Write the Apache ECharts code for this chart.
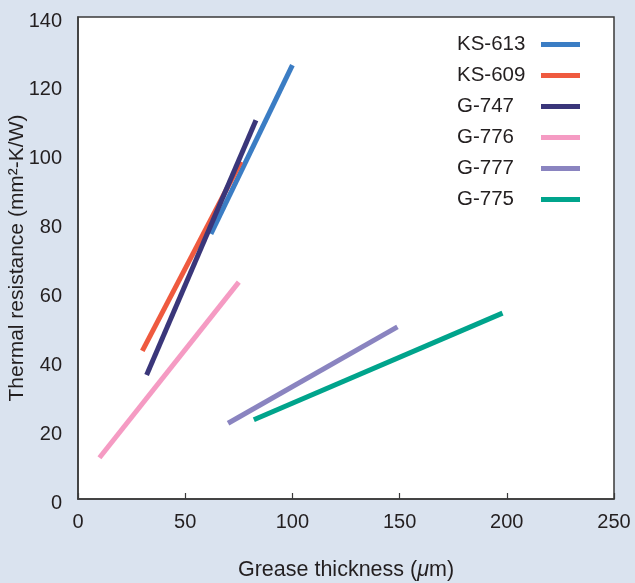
<!DOCTYPE html>
<html><head><meta charset="utf-8">
<script src="https://cdn.jsdelivr.net/npm/echarts@6/dist/echarts.min.js"></script>
<style>html,body{margin:0;padding:0;background:#dae3ef;}#c{width:635px;height:583px;}</style>
</head><body><div id="c"></div>
<script>
const seriesNames = ['KS-613','KS-609','G-747','G-776','G-777','G-775'];
const ks613 = [[62,77],[100,126]];
const ks609 = [[30,43],[76,98]];
const g747 = [[32,36],[83,110]];
const g776 = [[10,12],[75,63]];
const g777 = [[70,22],[149,50]];
const g775 = [[82,23],[198,54]];
const seriesData = [ks613, ks609, g747, g776, g777, g775];
const colors = ['#3b7dc4','#ef5a3f','#3a367a','#f59bc3','#8a84c0','#00a48c'];
const xName = 'Grease thickness ({i|μ}m)';
const yName = 'Thermal resistance (mm²-K/W)';

const font = '"Liberation Sans", Arial, Helvetica, sans-serif';
const txt = '#231f20';
const chart = echarts.init(document.getElementById('c'), null, {renderer:'canvas'});
chart.setOption({
  backgroundColor: '#dae3ef',
  animation: false,
  textStyle: {fontFamily: font, color: txt},
  grid: {left: 78, right: 21, top: 17, bottom: 84, containLabel: false, outerBoundsMode: 'none',
    show: true, backgroundColor: '#ffffff', borderColor: '#3a3a3a', borderWidth: 1.5},
  legend: {
    orient: 'vertical', left: 457, top: 34, padding: 0, align: 'right',
    itemWidth: 39, itemHeight: 5, itemGap: 10, icon: 'rect',
    data: seriesNames,
    formatter: '{a|{name}}',
    textStyle: {fontFamily: font, fontSize: 20, color: txt, lineHeight: 20,
      rich: {a: {width: 79, align: 'left', fontSize: 20.5, fontFamily: font, color: txt, lineHeight: 20}}}
  },
  xAxis: {
    type: 'value', min: 0, max: 250, interval: 50,
    name: xName, nameLocation: 'middle', nameGap: 60, nameMoveOverlap: false,
    nameTextStyle: {fontSize: 21.5, color: txt, fontFamily: font,
      rich: {i: {fontStyle: 'italic', fontSize: 21.5, color: txt, fontFamily: font}}},
    axisLine: {show: true, lineStyle: {color: '#3a3a3a', width: 1.5}},
    axisTick: {show: true, inside: true, length: 6, lineStyle: {color: '#3a3a3a', width: 1.2}},
    axisLabel: {fontSize: 20, color: txt, margin: 13, fontFamily: font},
    splitLine: {show: false}
  },
  yAxis: {
    type: 'value', min: 0, max: 140, interval: 20,
    name: yName, nameLocation: 'middle', nameGap: 50, nameMoveOverlap: false,
    nameTextStyle: {fontSize: 21, color: txt, fontFamily: font},
    axisLine: {show: true, lineStyle: {color: '#3a3a3a', width: 1.5}},
    axisTick: {show: false},
    axisLabel: {fontSize: 20, color: txt, margin: 16, fontFamily: font, verticalAlign: 'top', lineHeight: 8},
    splitLine: {show: false}
  },
  series: seriesNames.map((n, i) => ({
    name: n, type: 'line', data: seriesData[i], showSymbol: false, symbol: 'none',
    lineStyle: {color: colors[i], width: 5}, itemStyle: {color: colors[i]}
  }))
});
</script></body></html>
